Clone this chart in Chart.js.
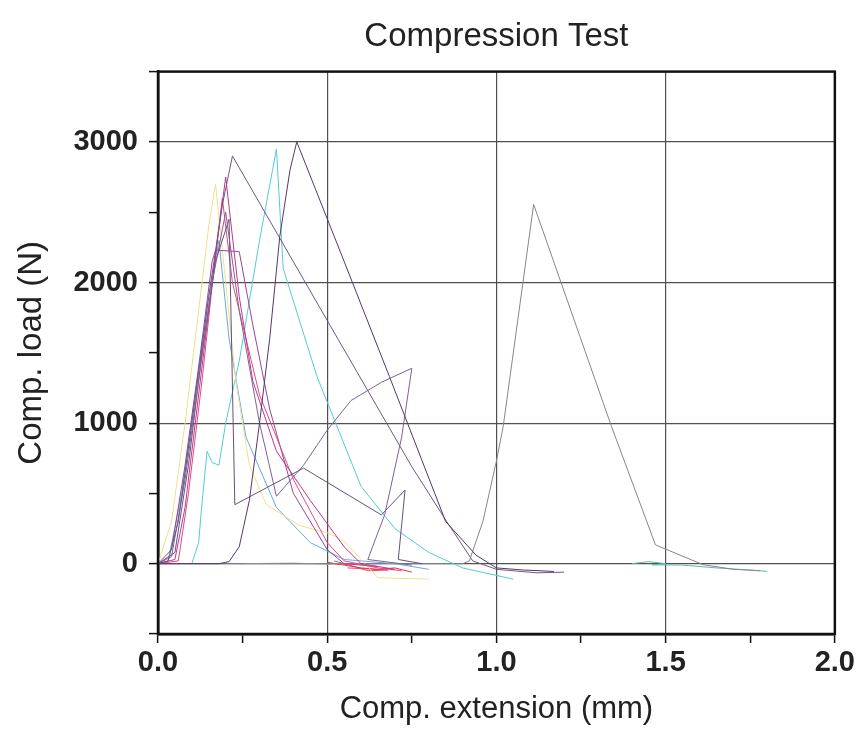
<!DOCTYPE html>
<html lang="en">
<head>
<meta charset="UTF-8">
<title>Compression Test</title>
<script src="https://cdn.jsdelivr.net/npm/chart.js"></script>
<style>
    body { margin: 0; background: #fff; }
    #wrap { width: 858px; height: 731px; }
</style>
</head>
<body>
<div id="wrap"><canvas id="chart" width="858" height="731"></canvas></div>
<script>
// extension (mm), load (N) pairs for each specimen
const specA = [[0,0],[0.18,0],[0.21,15],[0.24,120],[0.27,450],[0.30,1000],[0.33,1600],[0.36,2330],[0.39,2800],[0.41,3000],[0.55,2150],[0.684,1330],[0.85,300],[0.94,60],[1.0,-30],[1.08,-45],[1.17,-55]];
const specB = [[0,0],[0.03,20],[0.06,300],[0.10,1000],[0.15,1900],[0.19,2550],[0.22,2900],[0.5,1730],[0.75,690],[0.853,300],[0.93,20],[1.0,-40],[1.12,-65],[1.2,-60]];
const specC = [[0,0],[0.04,50],[0.08,600],[0.12,1300],[0.16,2000],[0.20,2500],[0.24,1800],[0.30,1000],[0.35,480],[0.43,700],[0.50,950],[0.57,1160],[0.66,1290],[0.75,1390],[0.72,900],[0.67,350],[0.62,30],[0.75,-10]];
const specD = [[0,0],[0.05,80],[0.09,700],[0.13,1500],[0.17,2150],[0.21,2450],[0.227,420],[0.43,680],[0.66,347],[0.73,524],[0.71,30],[0.78,0]];
const specE = [[0,0],[0.05,30],[0.08,400],[0.12,1200],[0.16,2000],[0.20,2750],[0.24,1900],[0.28,1300],[0.35,800],[0.45,450],[0.55,120],[0.60,0],[0.70,-40]];
const specF = [[0,0],[0.06,20],[0.09,500],[0.13,1300],[0.17,2200],[0.19,2600],[0.22,2000],[0.30,1200],[0.40,600],[0.50,150],[0.55,20],[0.65,-30],[0.72,-50]];
const specG = [[0,0],[0.04,100],[0.08,700],[0.12,1400],[0.16,2150],[0.17,2230],[0.24,2220],[0.28,1700],[0.33,1100],[0.40,500],[0.50,100],[0.55,0],[0.65,-20]];
const specH = [[0,0],[0.04,300],[0.08,1000],[0.12,1800],[0.15,2400],[0.17,2700],[0.20,2000],[0.23,1300],[0.27,700],[0.32,420],[0.42,270],[0.50,220],[0.55,160],[0.60,30],[0.65,-100],[0.80,-110]];
const specI = [[0.10,0],[0.12,150],[0.13,430],[0.145,800],[0.16,720],[0.18,700],[0.20,1000],[0.24,1440],[0.30,2300],[0.35,2950],[0.37,2100],[0.47,1330],[0.60,550],[0.70,250],[0.80,80],[0.90,-30],[1.05,-110]];
const specJ = [[0,0],[0.03,20],[0.07,500],[0.11,1200],[0.15,1900],[0.18,2300],[0.21,1600],[0.26,900],[0.35,400],[0.45,150],[0.55,30],[0.70,0],[0.80,-40]];
const specK = [[0,0],[0.5,0],[0.90,0],[0.92,20],[0.96,300],[1.0,730],[1.02,976],[1.11,2555],[1.34,976],[1.47,134],[1.61,-7],[1.70,-40],[1.78,-50]];
const specL = [[1.40,0],[1.45,15],[1.50,0],[1.46,-8],[1.55,-10],[1.65,-30],[1.75,-45],[1.80,-55]];
const specM = [[0.50,10],[0.55,-10],[0.60,-30],[0.65,-40],[0.70,-30],[0.75,-60]];
const specN = [[0.52,20],[0.58,-20],[0.62,-50],[0.68,-45],[0.56,-30]];
const specO = [[0.25,0],[0.40,5],[0.50,-5],[0.60,0]];

const series = [specA, specB, specC, specD, specE, specF, specG, specH, specI, specJ, specK, specL, specM, specN, specO];
const colors = ['#55386a','#6f5880','#7f6390','#64527a','#c0368e','#e04a80','#93479f','#f0e08c','#55cad6','#6aa8e0','#858592','#5cbca6','#e8303c','#f04866','#a8c888'];

const xTicks = [0, 0.5, 1.0, 1.5, 2.0];
const yTicks = [0, 1000, 2000, 3000];

const isMajorX = v => xTicks.some(t => Math.abs(t - v) < 1e-6);
const isMajorY = v => yTicks.includes(v);

const frame = {
    id: 'frame',
    afterDraw(chart) {
        const a = chart.chartArea, c = chart.ctx;
        c.save();
        c.strokeStyle = '#111';
        c.lineWidth = 2.5;
        c.strokeRect(a.left, a.top, a.right - a.left, a.bottom - a.top);
        c.restore();
    }
};

new Chart(document.getElementById('chart').getContext('2d'), {
    type: 'scatter',
    data: {
        datasets: series.map((s, i) => ({
            data: s.map(p => ({ x: p[0], y: p[1] })),
            showLine: true,
            borderColor: colors[i],
            borderWidth: 1,
            pointRadius: 0,
            tension: 0
        }))
    },
    options: {
        responsive: false,
        animation: false,
        layout: { padding: { left: 0, right: 22, top: 0, bottom: 0 } },
        plugins: {
            legend: { display: false },
            tooltip: { enabled: false },
            title: {
                display: true,
                text: 'Compression Test',
                fullSize: false,
                color: '#222',
                font: { family: 'Liberation Sans, Arial', size: 33, weight: 'normal' },
                padding: { top: 17, bottom: 15 }
            }
        },
        scales: {
            x: {
                type: 'linear',
                min: 0, max: 2,
                afterFit: s => { s.height = 97; },
                ticks: {
                    stepSize: 0.25,
                    autoSkip: false,
                    maxRotation: 0,
                    color: '#222',
                    font: { family: 'Liberation Sans', size: 29, weight: 'bold' },
                    padding: 3,
                    callback: v => isMajorX(v) ? v.toFixed(1) : ''
                },
                grid: {
                    color: c => isMajorX(c.tick.value) ? '#505050' : 'rgba(0,0,0,0)',
                    tickColor: '#111',
                    tickLength: 9,
                    tickWidth: 1.5,
                    lineWidth: 1.2
                },
                border: { color: '#111', width: 2.5 },
                title: {
                    display: true,
                    text: 'Comp. extension (mm)',
                    color: '#222',
                    font: { family: 'Liberation Sans, Arial', size: 31, weight: 'normal' },
                    padding: { top: 0, bottom: 3 }
                }
            },
            y: {
                type: 'linear',
                min: -500, max: 3500,
                afterFit: s => { s.width = 158; },
                ticks: {
                    stepSize: 500,
                    autoSkip: false,
                    color: '#222',
                    font: { family: 'Liberation Sans', size: 29, weight: 'bold' },
                    padding: 11,
                    callback: v => isMajorY(v) ? String(v) : ''
                },
                grid: {
                    color: c => isMajorY(c.tick.value) ? '#505050' : 'rgba(0,0,0,0)',
                    tickColor: '#111',
                    tickLength: 9,
                    tickWidth: 1.5,
                    lineWidth: 1.2
                },
                border: { color: '#111', width: 2.5 },
                title: {
                    display: true,
                    text: 'Comp. load (N)',
                    color: '#222',
                    font: { family: 'Liberation Sans, Arial', size: 33, weight: 'normal' },
                    padding: { top: 12, bottom: 4 }
                }
            }
        }
    },
    plugins: [frame]
});
</script>
</body>
</html>
